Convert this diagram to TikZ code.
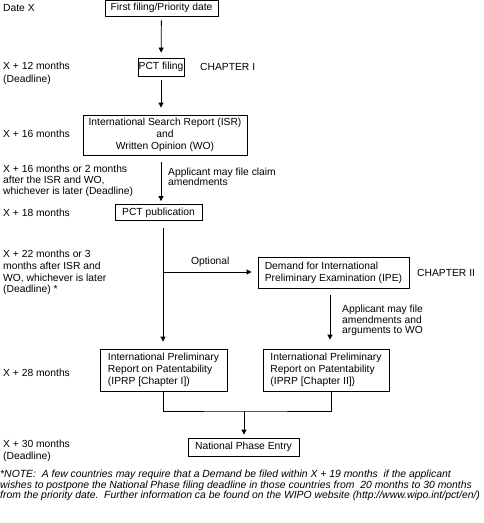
\documentclass[tikz,border=0pt]{standalone}
\usepackage{fontspec}
\setmainfont{Liberation Sans}
\usetikzlibrary{arrows.meta, calc, positioning}

\begin{document}
\begin{tikzpicture}[x=1pt,y=-1pt,
    font=\fontsize{10.3}{12}\selectfont,
    every node/.style={inner sep=0pt},
    box/.style={draw, line width=0.8pt},
    lbl/.style={anchor=west, align=left},
    flow/.style={-{Triangle[length=5pt,width=5pt]}, line width=0.8pt},
    link/.style={line width=0.8pt}]

  \useasboundingbox (0,0) rectangle (484,523);

  % main boxes
  \node[box, minimum width=113pt, minimum height=16pt] (first) at (161.5,8) {First filing/Priority date};
  \node[box, minimum width=46pt, minimum height=18pt] (pct) at (161,67) {PCT filing};
  \node[box, minimum width=164pt, minimum height=40pt, align=center] (isr) at (165,135)
    {International Search Report (ISR)\\and\\Written Opinion (WO)};
  \node[box, minimum width=87pt, minimum height=16pt] (pub) at (158.5,212.5) {PCT publication};
  \node[box, minimum width=151pt, minimum height=31pt, align=left] (ipe) at (333.5,273)
    {Demand for International\\Preliminary Examination (IPE)};
  \node[box, minimum width=127pt, minimum height=42pt, align=left] (iprpI) at (163.5,370)
    {International Preliminary\\Report on Patentability\\(IPRP [Chapter I])};
  \node[box, minimum width=126pt, minimum height=42pt, align=left] (iprpII) at (326,370)
    {International Preliminary\\Report on Patentability\\(IPRP [Chapter II])};
  \node[box, minimum width=111pt, minimum height=18pt] (npe) at (243.5,447) {National Phase Entry};

  \node[lbl] (chI) at (200,67) {CHAPTER I};
  \node[lbl] (chII) at (417,273) {CHAPTER II};

  % time line on the left
  \node[lbl] (dX) at (3,8) {Date X};
  \node[lbl, font=\fontsize{10.3}{13}\selectfont] (d12) at (3,73.5) {X + 12 months\\(Deadline)};
  \node[lbl] (d16) at (3,134) {X + 16 months};
  \node[lbl, font=\fontsize{10.3}{11}\selectfont] (d16b) at (3,180.5)
    {X + 16 months or 2 months\\after the ISR and WO,\\whichever is later (Deadline)};
  \node[lbl] (d18) at (3,213) {X + 18 months};
  \node[lbl, font=\fontsize{10.3}{11.7}\selectfont] (d22) at (3,272.5)
    {X + 22 months or 3\\months after ISR and\\WO, whichever is later\\(Deadline) *};
  \node[lbl] (d28) at (3,373) {X + 28 months};
  \node[lbl] (d30) at (3,451) {X + 30 months\\(Deadline)};

  \coordinate (split) at (163,272);
  \coordinate (join) at (244,411);

  % connectors
  \draw[flow, shorten <=4pt, shorten >=5pt] (first) -- (pct);
  \draw[flow, shorten <=4pt, shorten >=7pt] (pct) -- (pct |- isr.north);
  \draw[flow, shorten <=7pt, shorten >=3pt] (pct |- isr.south) -- (pct |- pub.north);
  \node[lbl, font=\fontsize{10.3}{10.5}\selectfont] (claim) at (168,177)
    {Applicant may file claim\\amendments};
  \draw[link, shorten <=7pt] (pub.south -| split) -- (split);
  \draw[flow, shorten >=7pt] (split) -- (split |- iprpI.north);
  \draw[flow, shorten >=6pt] (split) -- (split -| ipe.west) node[midway, above=5pt] {Optional};
  \draw[flow, shorten <=6.5pt, shorten >=9pt] ([xshift=-3.5pt]ipe.south) -- ([xshift=-3.5pt]ipe.south |- iprpII.north);
  \node[lbl, font=\fontsize{10.3}{10.5}\selectfont] (args) at (342,320.5)
    {Applicant may file\\amendments and\\arguments to WO};
  \draw[link] (iprpI.south -| split) |- (join) -| ([xshift=5pt]iprpII.south);
  \draw[flow, shorten >=3pt] (join) -- (join |- npe.north);

  % footnote
  \node[lbl, font=\fontsize{10.4}{9.5}\selectfont\itshape] (note) at (0,485.5)
    {*NOTE:\ \ A few countries may require that a Demand be filed within X + 19 months\ \ if the applicant\\
     wishes to postpone the National Phase filing deadline in those countries from\ \ 20 months to 30 months\\
     from the priority date.\ \ Further information ca be found on the WIPO website (http://www.wipo.int/pct/en/)};
\end{tikzpicture}
\end{document}
